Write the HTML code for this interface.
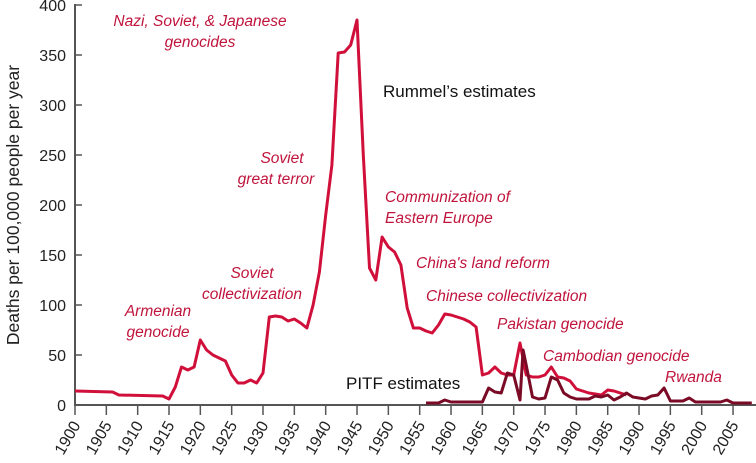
<!DOCTYPE html>
<html><head><meta charset="utf-8"><style>
body{margin:0;background:#fff;width:756px;height:458px;overflow:hidden}
svg text{font-family:"Liberation Sans",sans-serif}
.lab{fill:#c0143c;font-style:italic;font-size:15.5px}
.tk{fill:#222;font-size:16px}
</style></head><body>
<svg id="s" width="756" height="458" xmlns="http://www.w3.org/2000/svg">
<g stroke="#555" stroke-width="2" fill="none">
<line x1="75" y1="4" x2="75" y2="405"/><line x1="74" y1="405" x2="756" y2="405"/>
</g>
<g id="ticks"></g>
<text transform="translate(19,205) rotate(-90)" text-anchor="middle" font-size="17.5" fill="#222">Deaths per 100,000 people per year</text>
<polyline id="r" fill="none" stroke="#d0103a" stroke-width="3" stroke-linejoin="round"/>
<polyline id="p" fill="none" stroke="#7a0a25" stroke-width="3" stroke-linejoin="round"/>
<text class="lab" x="200" y="26" text-anchor="middle">Nazi, Soviet, &amp; Japanese</text>
<text class="lab" x="200" y="47" text-anchor="middle">genocides</text>
<text x="383" y="97" font-size="17" fill="#111">Rummel’s estimates</text>
<text class="lab" x="282" y="163" text-anchor="middle">Soviet</text>
<text class="lab" x="276" y="184" text-anchor="middle">great terror</text>
<text class="lab" x="385" y="202">Communization of</text>
<text class="lab" x="385" y="223">Eastern Europe</text>
<text class="lab" x="416" y="268">China's land reform</text>
<text class="lab" x="252" y="278" text-anchor="middle">Soviet</text>
<text class="lab" x="252" y="299" text-anchor="middle">collectivization</text>
<text class="lab" x="426" y="301">Chinese collectivization</text>
<text class="lab" x="158" y="316" text-anchor="middle">Armenian</text>
<text class="lab" x="158" y="337" text-anchor="middle">genocide</text>
<text class="lab" x="497" y="329">Pakistan genocide</text>
<text class="lab" x="543" y="361">Cambodian genocide</text>
<text class="lab" x="665" y="382">Rwanda</text>
<text x="346" y="389" font-size="17" fill="#111">PITF estimates</text>
</svg>
<script>
function X(y){return 75+(y-1900)*6.267}function Y(v){return 405-v}
var r=[[1900,14],[1906,13],[1907,10],[1914,9],[1915,6],[1916,18],[1917,38],[1918,35],[1919,38],[1920,65],[1921,55],[1922,50],[1923,47],[1924,44],[1925,30],[1926,22],[1927,22],[1928,25],[1929,22],[1930,32],[1931,88],[1932,89],[1933,88],[1934,84],[1935,86],[1936,82],[1937,77],[1938,100],[1939,133],[1940,190],[1941,240],[1942,352],[1943,353],[1944,360],[1945,385],[1946,250],[1947,137],[1948,125],[1949,168],[1950,158],[1951,153],[1952,140],[1953,97],[1954,77],[1955,77],[1956,74],[1957,72],[1958,80],[1959,91],[1960,90],[1961,88],[1962,86],[1963,83],[1964,78],[1965,30],[1966,32],[1967,38],[1968,32],[1969,30],[1970,30],[1971,62],[1972,30],[1973,28],[1974,28],[1975,30],[1976,38],[1977,28],[1978,27],[1979,24],[1980,16],[1981,14],[1982,12],[1983,11],[1984,10],[1985,15],[1986,14],[1987,12],[1988,10]];
var p=[[1956,2],[1958,2],[1959,5],[1960,3],[1962,3],[1964,3],[1965,3],[1966,17],[1967,13],[1968,12],[1969,32],[1970,30],[1971,5],[1971.5,55],[1972,40],[1973,8],[1974,6],[1975,7],[1976,28],[1977,25],[1978,12],[1979,8],[1980,6],[1982,6],[1983,9],[1984,8],[1985,10],[1986,5],[1987,8],[1988,12],[1989,8],[1990,7],[1991,6],[1992,9],[1993,10],[1994,17],[1995,4],[1996,4],[1997,4],[1998,7],[1999,3],[2000,3],[2003,3],[2004,5],[2005,2],[2008,2]];
function pts(a){return a.map(function(d){return X(d[0]).toFixed(1)+","+Y(d[1])}).join(" ")}
document.getElementById("r").setAttribute("points",pts(r));
document.getElementById("p").setAttribute("points",pts(p));
var g=document.getElementById("ticks"),h="";
for(var v=0;v<=400;v+=50){h+='<line x1="75" y1="'+Y(v)+'" x2="82" y2="'+Y(v)+'" stroke="#555" stroke-width="1.5"/><text class="tk" x="66" y="'+(Y(v)+6)+'" text-anchor="end">'+v+'</text>';}
for(var y=1900;y<=2005;y+=5){var x=X(y);h+='<line x1="'+x+'" y1="405" x2="'+x+'" y2="415" stroke="#555" stroke-width="1.5"/><text class="tk" font-size="14.5" transform="translate('+(x+6)+',425) rotate(-60)" text-anchor="end">'+y+'</text>';}
g.innerHTML=h;
</script>
</body></html>
